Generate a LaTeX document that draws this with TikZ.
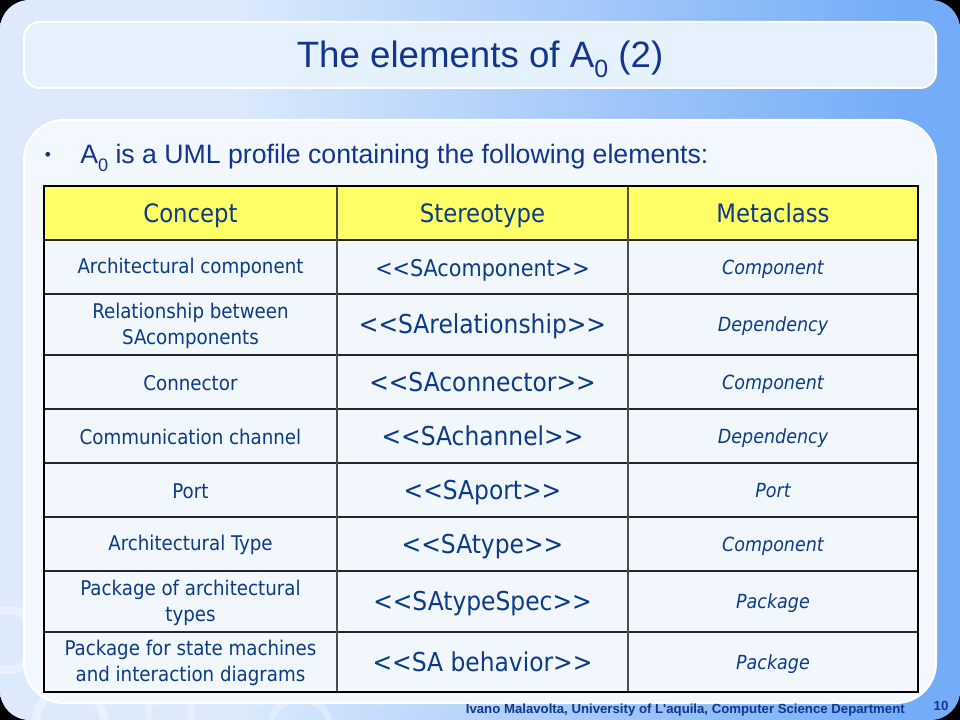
\documentclass[tikz,border=0pt]{standalone}
\usepackage{fontspec}
\setmainfont{DejaVu Sans Condensed}
\newfontfamily\slidefont{Liberation Sans}
\definecolor{bgL}{HTML}{DCEAFC}
\definecolor{bgR}{HTML}{74ACF7}
\definecolor{titlebox}{HTML}{E6F1FE}
\definecolor{contentbox}{HTML}{F3F8FE}
\definecolor{ink}{HTML}{0B3C85}
\definecolor{titleink}{HTML}{12358E}
\definecolor{headfill}{HTML}{FFFF66}
\definecolor{cellfill}{HTML}{F2F7FD}
\pgfdeclarehorizontalshading{slidebg}{100bp}{color(0bp)=(bgL); color(25bp)=(bgL); color(37bp)=(bgL); color(72bp)=(bgR); color(75bp)=(bgR); color(100bp)=(bgR)}
\newcommand{\lowidx}[1]{\raisebox{-0.28em}{\scalebox{0.68}{#1}}}
\tikzset{
  headtext/.style={text=ink, text height=13.9pt, text depth=0pt, font=\fontsize{19}{22}\selectfont},
  concepttext/.style={text=ink, align=center, font=\fontsize{15.2}{19.5}\selectfont},
  stereotext/.style={text=ink, text height=14.2pt, text depth=0pt, font=\fontsize{19.5}{22}\selectfont},
  metatext/.style={text=ink, text height=10.6pt, text depth=0pt, font=\fontsize{14.6}{17}\selectfont\itshape},
}
\begin{document}
\begin{tikzpicture}[x=0.75pt,y=-0.75pt]
    \useasboundingbox (0,0) rectangle (960,720);
    % slide background
    \fill[black] (0,0) rectangle (960,720);
    \fill[shading=slidebg, rounded corners=22] (0,0) rectangle (960,720);
    \begin{scope}
        \clip (0,0) rectangle (960,720);
        \draw[white, opacity=0.35, line width=6] (8,640) circle (30);
        \draw[white, opacity=0.35, line width=6] (70,722) circle (34);
        \draw[white, opacity=0.3, line width=5] (170,712) circle (22);
        \draw[white, opacity=0.3, line width=5] (300,728) circle (30);
    \end{scope}
    % title and content boxes
    \draw[white, line width=1.5, fill=titlebox, rounded corners=12] (24,22) rectangle (936,88);
    \node[text=titleink, font=\slidefont\fontsize{27.5}{32}\selectfont] (title) at (480,59) {The elements of A\lowidx{0} (2)};
    \draw[white, line width=1.5, fill=contentbox, rounded corners=30] (24,120) rectangle (936,703);
    \node[text=titleink, font=\slidefont\fontsize{13}{14}\selectfont] (bullet) at (48,156) {\textbullet};
    \node[anchor=west, text=titleink, font=\slidefont\fontsize{20}{24}\selectfont, inner sep=0pt] (intro) at (80,158) {A\lowidx{0} is a UML profile containing the following elements:};
    % table
    \fill[headfill] (44,186) rectangle (918,240);
    \fill[cellfill] (44,240) rectangle (918,692);
    \foreach \y in {240,294,355,409,463,517,571,632}
        \draw[black!85, line width=0.8] (44,\y) -- (918,\y);
    \foreach \x in {337,628}
        \draw[black!70, line width=0.8] (\x,186) -- (\x,692);
    \draw[black, line width=2.2] (44,186) rectangle (918,692);
    \node[headtext] (hconcept) at (190.5,213) {Concept};
    \node[headtext] (hstereo) at (482.5,213) {Stereotype};
    \node[headtext] (hmeta) at (773,213) {Metaclass};
    \foreach \ytop/\ybot/\concept/\stereo/\meta [count=\r] in {
        240/294/{Architectural component}/{\fontsize{17.3}{20}\selectfont<{}<SAcomponent>{}>}/Component,
        294/355/{Relationship between\\SAcomponents}/{<{}<SArelationship>{}>}/Dependency,
        355/409/{Connector}/{<{}<SAconnector>{}>}/Component,
        409/463/{Communication channel}/{<{}<SAchannel>{}>}/Dependency,
        463/517/{Port}/{<{}<SAport>{}>}/Port,
        517/571/{Architectural Type}/{<{}<SAtype>{}>}/Component,
        571/632/{Package of architectural\\types}/{<{}<SAtypeSpec>{}>}/Package,
        632/692/{Package for state machines\\and interaction diagrams}/{<{}<SA behavior>{}>}/Package}
    {
        \node[concepttext] (concept\r) at (190.5,{(\ytop+\ybot)/2+1}) {\concept};
        \node[stereotext] (stereo\r) at (482.5,{(\ytop+\ybot)/2}) {\stereo};
        \node[metatext] (meta\r) at (773,{(\ytop+\ybot)/2}) {\meta};
    }
    % footer
    \node[anchor=east, text=titleink, font=\slidefont\bfseries\fontsize{9.9}{11}\selectfont, inner sep=0pt] (footer) at (905,710) {Ivano Malavolta, University of L'aquila, Computer Science Department};
    \node[text=titleink, font=\slidefont\bfseries\fontsize{9.9}{11}\selectfont, inner sep=0pt] (pagenum) at (941,706) {10};
\end{tikzpicture}
\end{document}
